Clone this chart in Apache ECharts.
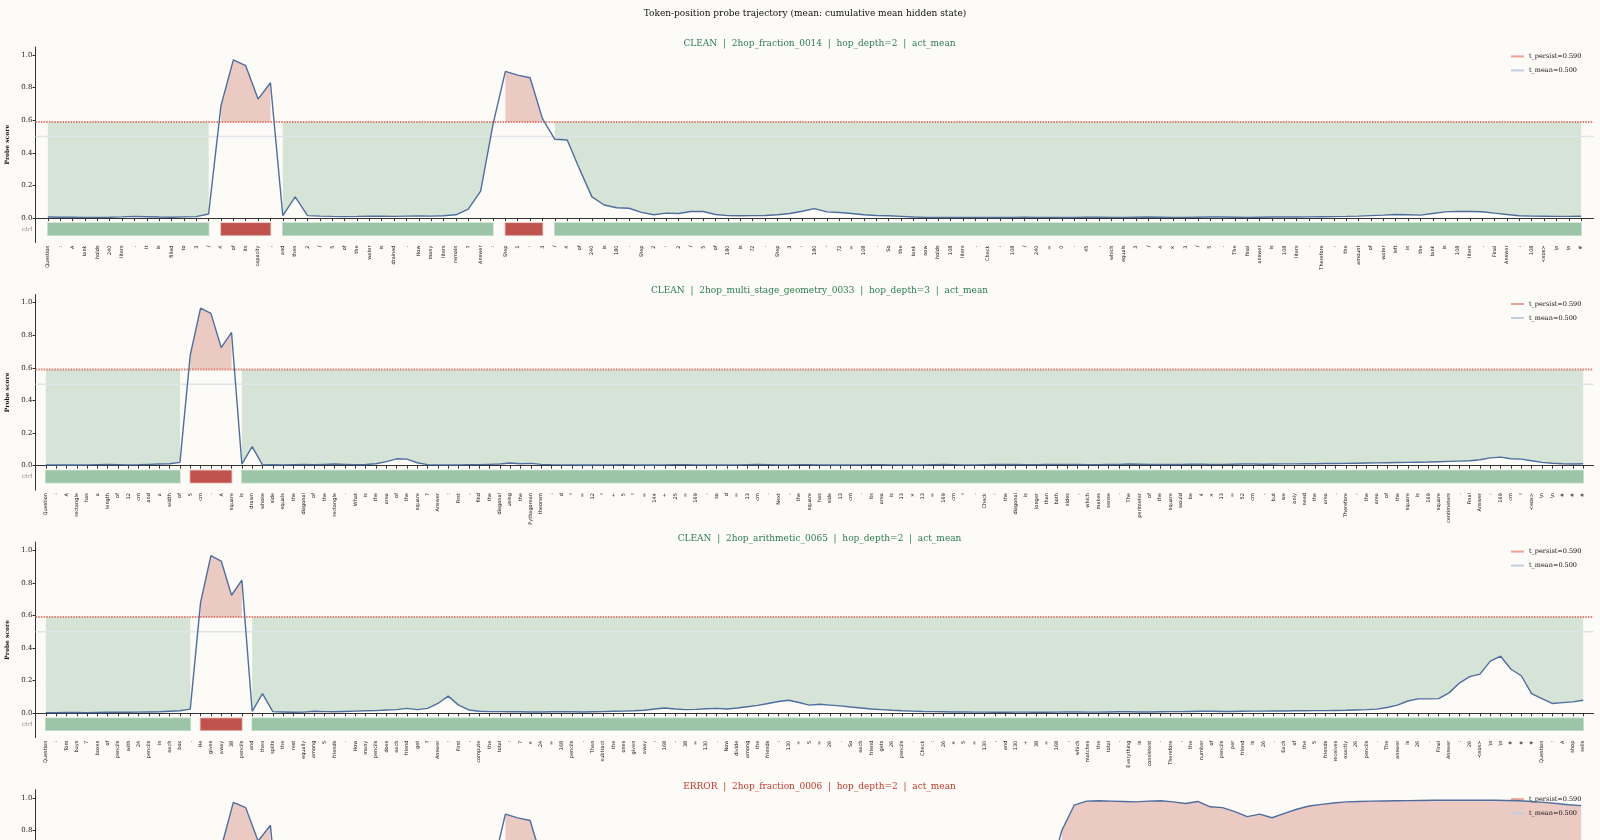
<!DOCTYPE html>
<html>
<head>
<meta charset="utf-8">
<title>Token-position probe trajectory</title>
<script src="https://cdn.jsdelivr.net/npm/echarts@6/dist/echarts.min.js"></script>
<style>
  html, body { margin: 0; padding: 0; background: #fcfbf7; overflow: hidden; }
  #chart { width: 1600px; height: 840px; }
</style>
</head>
<body>
<div id="chart"></div>
<script>
'use strict';

// thresholds and fixed labels
var threshold = 0.59;
var tMean = 0.5;
var legendNames = ['t_persist=0.590', 't_mean=0.500'];
var yTicks = [0, 0.2, 0.4, 0.6, 0.8, 1.0];
var bandLabel = 'ctrl';
var mainTitle = 'Token-position probe trajectory (mean: cumulative mean hidden state)';

var statuses = ['CLEAN', 'CLEAN', 'CLEAN', 'ERROR'];
var promptIds = ['2hop_fraction_0014', '2hop_multi_stage_geometry_0033', '2hop_arithmetic_0065', '2hop_fraction_0006'];
var hopDepths = [2, 3, 2, 2];
var actKind = 'act_mean';

// tokens (x categories) per panel
var tokens1 = [
  'Question', ':', 'A', 'tank', 'holds', '240', 'liters', '.', 'It', 'is',
  'filled', 'to', '3', '/', '4', 'of', 'its', 'capacity', ',', 'and',
  'then', '2', '/', '5', 'of', 'the', 'water', 'is', 'drained', '.',
  'How', 'many', 'liters', 'remain', '?', 'Answer', ':', 'Step', '1', ':',
  '3', '/', '4', 'of', '240', 'is', '180', '.', 'Step', '2',
  ':', '2', '/', '5', 'of', '180', 'is', '72', '.', 'Step',
  '3', ':', '180', '-', '72', '=', '108', '.', 'So', 'the',
  'tank', 'now', 'holds', '108', 'liters', '.', 'Check', ':', '108', '/',
  '240', '=', '0', '.', '45', ',', 'which', 'equals', '3', '/',
  '4', '×', '3', '/', '5', '.', 'The', 'final', 'answer', 'is',
  '108', 'liters', '.', 'Therefore', ',', 'the', 'amount', 'of', 'water', 'left',
  'in', 'the', 'tank', 'is', '108', 'liters', '.', 'Final', 'Answer', ':',
  '108', '<eos>', '\\n', '\\n', '#'
];
var tokens2 = [
  'Question', ':', 'A', 'rectangle', 'has', 'a', 'length', 'of', '12', 'cm',
  'and', 'a', 'width', 'of', '5', 'cm', '.', 'A', 'square', 'is',
  'drawn', 'whose', 'side', 'equals', 'the', 'diagonal', 'of', 'the', 'rectangle', '.',
  'What', 'is', 'the', 'area', 'of', 'the', 'square', '?', 'Answer', ':',
  'First', ',', 'find', 'the', 'diagonal', 'using', 'the', 'Pythagorean', 'theorem', ':',
  'd', '²', '=', '12', '²', '+', '5', '²', '=', '144',
  '+', '25', '=', '169', ',', 'so', 'd', '=', '13', 'cm',
  '.', 'Next', ',', 'the', 'square', 'has', 'side', '13', 'cm', '.',
  'Its', 'area', 'is', '13', '×', '13', '=', '169', 'cm', '²',
  '.', 'Check', ':', 'the', 'diagonal', 'is', 'longer', 'than', 'both', 'sides',
  ',', 'which', 'makes', 'sense', '.', 'The', 'perimeter', 'of', 'the', 'square',
  'would', 'be', '4', '×', '13', '=', '52', 'cm', ',', 'but',
  'we', 'only', 'need', 'the', 'area', '.', 'Therefore', ',', 'the', 'area',
  'of', 'the', 'square', 'is', '169', 'square', 'centimeters', '.', 'Final', 'Answer',
  ':', '169', 'cm', '²', '<eos>', '\\n', '\\n', '#', '#', '#'
];
var tokens3 = [
  'Question', ':', 'Tom', 'buys', '7', 'boxes', 'of', 'pencils', 'with', '24',
  'pencils', 'in', 'each', 'box', '.', 'He', 'gives', 'away', '38', 'pencils',
  'and', 'then', 'splits', 'the', 'rest', 'equally', 'among', '5', 'friends', '.',
  'How', 'many', 'pencils', 'does', 'each', 'friend', 'get', '?', 'Answer', ':',
  'First', ',', 'compute', 'the', 'total', ':', '7', '×', '24', '=',
  '168', 'pencils', '.', 'Then', 'subtract', 'the', 'ones', 'given', 'away', ':',
  '168', '-', '38', '=', '130', '.', 'Now', 'divide', 'among', 'the',
  'friends', ':', '130', '÷', '5', '=', '26', '.', 'So', 'each',
  'friend', 'gets', '26', 'pencils', '.', 'Check', ':', '26', '×', '5',
  '=', '130', ',', 'and', '130', '+', '38', '=', '168', ',',
  'which', 'matches', 'the', 'total', '.', 'Everything', 'is', 'consistent', '.', 'Therefore',
  ',', 'the', 'number', 'of', 'pencils', 'per', 'friend', 'is', '26', '.',
  'Each', 'of', 'the', '5', 'friends', 'receives', 'exactly', '26', 'pencils', '.',
  'The', 'answer', 'is', '26', '.', 'Final', 'Answer', ':', '26', '<eos>',
  '\\n', '\\n', '#', '#', '#', 'Question', ':', 'A', 'shop', 'sells'
];
var tokens4 = [
  'Question', ':', 'A', 'baker', 'made', '360', 'cookies', '.', 'She', 'has',
  'packed', 'up', '3', '/', '4', 'of', 'the', 'batch', ',', 'and',
  'then', '2', '/', '3', 'of', 'those', 'boxes', 'were', 'sold', '.',
  'How', 'many', 'cookies', 'remain', '?', 'Answer', ':', 'Step', '1', ':',
  '3', '/', '4', 'of', '360', 'is', '270', '.', 'Step', '2',
  ':', '2', '/', '3', 'of', '270', 'is', '180', '.', 'Step',
  '3', ':', '360', '-', '180', '=', '180', '.', 'So', 'the',
  'baker', 'still', 'has', '180', 'cookies', '.', 'Check', ':', '180', '/',
  '360', '=', '0', '.', '5', ',', 'which', 'equals', '1', '/',
  '2', 'of', 'the', 'batch', '.', '.', 'The', 'final', 'answer', 'is',
  '180', 'cookies', '.', 'Therefore', ',', 'the', 'number', 'of', 'cookies', 'left',
  'with', 'the', 'baker', 'is', '180', 'cookies', '.', 'Final', 'Answer', ':',
  '180', '<eos>', '\\n', '\\n', '#'
];

// probe scores per token
var scores1 = [
  0.006, 0.005, 0.005, 0.004, 0.004, 0.005, 0.007, 0.010, 0.008, 0.006,
  0.005, 0.007, 0.009, 0.025, 0.690, 0.970, 0.935, 0.730, 0.830, 0.015,
  0.130, 0.015, 0.012, 0.010, 0.009, 0.010, 0.012, 0.011, 0.010, 0.012,
  0.013, 0.012, 0.014, 0.020, 0.055, 0.165, 0.575, 0.900, 0.877, 0.861,
  0.610, 0.483, 0.479, 0.300, 0.130, 0.080, 0.063, 0.060, 0.035, 0.020,
  0.030, 0.028, 0.040, 0.040, 0.022, 0.015, 0.014, 0.015, 0.016, 0.020,
  0.028, 0.042, 0.058, 0.038, 0.034, 0.028, 0.020, 0.016, 0.014, 0.010,
  0.006, 0.004, 0.003, 0.003, 0.004, 0.004, 0.003, 0.003, 0.004, 0.005,
  0.004, 0.004, 0.003, 0.004, 0.005, 0.005, 0.004, 0.004, 0.005, 0.006,
  0.005, 0.004, 0.004, 0.005, 0.006, 0.006, 0.005, 0.004, 0.005, 0.006,
  0.006, 0.006, 0.007, 0.008, 0.009, 0.010, 0.012, 0.015, 0.018, 0.022,
  0.020, 0.018, 0.028, 0.038, 0.041, 0.040, 0.039, 0.030, 0.022, 0.014,
  0.012, 0.011, 0.010, 0.010, 0.011
];
var scores2 = [
  0.005, 0.004, 0.004, 0.004, 0.005, 0.006, 0.007, 0.006, 0.005, 0.006,
  0.008, 0.010, 0.012, 0.020, 0.680, 0.967, 0.934, 0.724, 0.817, 0.010,
  0.117, 0.005, 0.006, 0.005, 0.006, 0.007, 0.006, 0.008, 0.010, 0.008,
  0.006, 0.007, 0.012, 0.025, 0.042, 0.040, 0.018, 0.006, 0.005, 0.004,
  0.005, 0.006, 0.006, 0.008, 0.010, 0.016, 0.012, 0.014, 0.008, 0.006,
  0.005, 0.005, 0.004, 0.004, 0.005, 0.005, 0.006, 0.005, 0.004, 0.004,
  0.005, 0.006, 0.006, 0.005, 0.005, 0.004, 0.004, 0.005, 0.006, 0.007,
  0.006, 0.005, 0.005, 0.006, 0.006, 0.005, 0.004, 0.004, 0.005, 0.005,
  0.006, 0.006, 0.005, 0.005, 0.004, 0.005, 0.006, 0.007, 0.006, 0.005,
  0.005, 0.006, 0.007, 0.008, 0.007, 0.006, 0.006, 0.007, 0.008, 0.008,
  0.007, 0.006, 0.006, 0.007, 0.008, 0.010, 0.009, 0.008, 0.007, 0.007,
  0.008, 0.009, 0.009, 0.008, 0.008, 0.009, 0.010, 0.010, 0.009, 0.010,
  0.011, 0.011, 0.012, 0.012, 0.013, 0.013, 0.014, 0.015, 0.016, 0.017,
  0.018, 0.019, 0.020, 0.021, 0.022, 0.024, 0.026, 0.028, 0.030, 0.036,
  0.048, 0.052, 0.042, 0.040, 0.030, 0.020, 0.015, 0.012, 0.010, 0.012
];
var scores3 = [
  0.004, 0.004, 0.005, 0.005, 0.004, 0.005, 0.006, 0.007, 0.006, 0.007,
  0.008, 0.009, 0.012, 0.015, 0.025, 0.680, 0.967, 0.934, 0.724, 0.817,
  0.012, 0.120, 0.010, 0.008, 0.006, 0.007, 0.012, 0.010, 0.009, 0.011,
  0.013, 0.015, 0.016, 0.020, 0.022, 0.030, 0.022, 0.030, 0.060, 0.105,
  0.050, 0.020, 0.012, 0.010, 0.010, 0.009, 0.009, 0.008, 0.008, 0.009,
  0.010, 0.009, 0.008, 0.009, 0.010, 0.012, 0.013, 0.015, 0.018, 0.026,
  0.032, 0.026, 0.022, 0.024, 0.028, 0.030, 0.026, 0.032, 0.040, 0.048,
  0.060, 0.072, 0.080, 0.066, 0.050, 0.055, 0.050, 0.045, 0.038, 0.032,
  0.026, 0.022, 0.018, 0.015, 0.013, 0.011, 0.010, 0.009, 0.008, 0.008,
  0.007, 0.007, 0.006, 0.006, 0.007, 0.007, 0.006, 0.006, 0.007, 0.008,
  0.008, 0.007, 0.007, 0.008, 0.009, 0.009, 0.008, 0.008, 0.009, 0.010,
  0.010, 0.011, 0.012, 0.012, 0.011, 0.011, 0.012, 0.013, 0.013, 0.014,
  0.014, 0.015, 0.015, 0.016, 0.016, 0.017, 0.018, 0.020, 0.022, 0.025,
  0.035, 0.050, 0.075, 0.088, 0.088, 0.090, 0.125, 0.185, 0.225, 0.240,
  0.320, 0.350, 0.270, 0.230, 0.120, 0.090, 0.060, 0.065, 0.070, 0.080
];
var scores4 = [
  0.006, 0.005, 0.005, 0.004, 0.004, 0.005, 0.007, 0.010, 0.008, 0.006,
  0.005, 0.007, 0.009, 0.025, 0.690, 0.972, 0.940, 0.735, 0.832, 0.015,
  0.130, 0.015, 0.012, 0.010, 0.009, 0.010, 0.012, 0.011, 0.010, 0.012,
  0.013, 0.012, 0.014, 0.020, 0.055, 0.165, 0.575, 0.900, 0.877, 0.861,
  0.610, 0.483, 0.479, 0.300, 0.130, 0.080, 0.063, 0.060, 0.035, 0.020,
  0.030, 0.028, 0.040, 0.040, 0.030, 0.025, 0.030, 0.035, 0.040, 0.045,
  0.050, 0.060, 0.070, 0.065, 0.060, 0.070, 0.080, 0.090, 0.100, 0.110,
  0.090, 0.120, 0.100, 0.140, 0.170, 0.150, 0.190, 0.240, 0.220, 0.280,
  0.340, 0.520, 0.800, 0.955, 0.980, 0.982, 0.980, 0.978, 0.975, 0.980,
  0.982, 0.975, 0.965, 0.978, 0.945, 0.940, 0.915, 0.885, 0.900, 0.878,
  0.905, 0.930, 0.950, 0.960, 0.968, 0.975, 0.978, 0.980, 0.981, 0.982,
  0.983, 0.984, 0.985, 0.985, 0.986, 0.985, 0.986, 0.985, 0.984, 0.982,
  0.978, 0.972, 0.965, 0.958, 0.952
];

var tokenSets = [tokens1, tokens2, tokens3, tokens4];
var scoreSets = [scores1, scores2, scores3, scores4];

// layout
var gridLeft = 35.5, gridWidth = 1558, gridHeight = 195.6;
var firstTop = 46.9, panelStep = 247.6;
var yMin = -0.15, yMax = 1.05;
var bandTop = -0.03, bandBottom = -0.105;

var serif = '"DejaVu Serif", "Liberation Serif", serif';
var colors = {
  bg: '#fcfbf7',
  line: '#4f6e9e',
  thr: 'rgba(220, 105, 88, 0.85)',
  mean: '#e0e4e9',
  meanLegend: '#c2cede',
  greenFill: 'rgba(110, 170, 130, 0.28)',
  redFill: 'rgba(200, 90, 80, 0.30)',
  greenBand: '#9cc5a8',
  redBand: '#c0524e',
  clean: '#2e7d4f',
  error: '#c0392b'
};

function pad(arr) {
  return [null].concat(arr, [null]);
}

// contiguous runs above / below threshold -> [start, end, isAbove, yMid]
function runsOf(scores) {
  var runs = [];
  var start = 0;
  for (var i = 1; i <= scores.length; i++) {
    var prev = scores[i - 1] >= threshold;
    if (i === scores.length || (scores[i] >= threshold) !== prev) {
      runs.push([start + 1, i, prev ? 1 : 0, (bandTop + bandBottom) / 2]);
      start = i;
    }
  }
  return runs;
}

var option = {
  backgroundColor: colors.bg,
  animation: false,
  title: [{
    text: mainTitle,
    left: 800,
    top: 4,
    textAlign: 'center',
    textStyle: { fontFamily: serif, fontSize: 9, fontWeight: 'normal', color: '#111' }
  }],
  grid: [],
  xAxis: [],
  yAxis: [],
  legend: [],
  series: []
};

scoreSets.forEach(function(scores, k) {
  var tokens = tokenSets[k];
  var cats = [''].concat(tokens, ['']);
  var top = firstTop + panelStep * k;
  var flat = function(v) { return cats.map(function() { return v; }); };

  option.title.push({
    text: statuses[k] + '  |  ' + promptIds[k] + '  |  hop_depth=' + hopDepths[k] + '  |  ' + actKind,
    left: gridLeft + gridWidth / 2,
    top: top - 13,
    textAlign: 'center',
    textStyle: {
      fontFamily: serif, fontSize: 9, fontWeight: 'normal',
      color: statuses[k] === 'ERROR' ? colors.error : colors.clean
    }
  });

  option.grid.push({
    left: gridLeft, top: top, width: gridWidth, height: gridHeight,
    outerBoundsMode: 'none', containLabel: false
  });

  option.xAxis.push({
    type: 'category',
    gridIndex: k,
    data: cats,
    boundaryGap: false,
    axisLine: { lineStyle: { color: '#333', width: 1 } },
    axisTick: {
      length: 3,
      lineStyle: { color: '#333' },
      interval: function(i) { return i > 0 && i < cats.length - 1; }
    },
    axisLabel: {
      interval: 0, rotate: 90, margin: 3,
      fontSize: 5, fontFamily: '"DejaVu Sans", sans-serif', color: '#111'
    },
    splitLine: { show: false }
  });

  option.yAxis.push({
    type: 'value',
    gridIndex: k,
    min: yMin,
    max: yMax,
    name: 'Probe score',
    nameLocation: 'middle',
    nameGap: 24,
    nameTextStyle: { fontFamily: serif, fontSize: 6, fontWeight: 'bold', color: '#111' },
    axisLine: { show: true, lineStyle: { color: '#333', width: 1 } },
    axisTick: { show: true, length: 3, customValues: yTicks, lineStyle: { color: '#333' } },
    axisLabel: {
      customValues: yTicks.concat([(bandTop + bandBottom) / 2]),
      margin: 3,
      fontFamily: serif, fontSize: 7, color: '#222',
      formatter: function(v) { return v < 0 ? '{c|' + bandLabel + '}' : v.toFixed(1); },
      rich: { c: { fontFamily: serif, fontSize: 6, fontStyle: 'italic', color: '#888' } }
    },
    splitLine: { show: false }
  });

  option.legend.push({
    data: [
      { name: legendNames[0], icon: 'rect', itemStyle: { color: 'rgba(226, 140, 128, 0.8)' } },
      { name: legendNames[1], icon: 'rect', itemStyle: { color: colors.meanLegend } }
    ],
    left: 1511,
    top: top + 6,
    orient: 'vertical',
    padding: 0,
    itemWidth: 13,
    itemHeight: 2,
    itemGap: 7,
    selectedMode: false,
    textStyle: { fontFamily: serif, fontSize: 6.5, color: '#111' }
  });

  var common = { type: 'line', xAxisIndex: k, yAxisIndex: k, symbol: 'none', silent: true };

  // green fill: between score and threshold while below it
  option.series.push(Object.assign({}, common, {
    stack: 'g' + k, z: 1,
    data: pad(scores.map(function(v) { return v < threshold ? v : null; })),
    lineStyle: { opacity: 0 }
  }));
  option.series.push(Object.assign({}, common, {
    stack: 'g' + k, z: 1,
    data: pad(scores.map(function(v) { return v < threshold ? threshold - v : null; })),
    lineStyle: { opacity: 0 },
    areaStyle: { color: colors.greenFill, opacity: 1 }
  }));
  // red fill: between threshold and score while above it
  option.series.push(Object.assign({}, common, {
    stack: 'r' + k, z: 1,
    data: pad(scores.map(function(v) { return v >= threshold ? threshold : null; })),
    lineStyle: { opacity: 0 }
  }));
  option.series.push(Object.assign({}, common, {
    stack: 'r' + k, z: 1,
    data: pad(scores.map(function(v) { return v >= threshold ? v - threshold : null; })),
    lineStyle: { opacity: 0 },
    areaStyle: { color: colors.redFill, opacity: 1 }
  }));

  // reference lines
  option.series.push(Object.assign({}, common, {
    name: legendNames[1], z: 2,
    data: flat(tMean),
    lineStyle: { color: colors.mean, width: 1.5 },
    itemStyle: { color: colors.mean }
  }));
  option.series.push(Object.assign({}, common, {
    name: legendNames[0], z: 3,
    data: flat(threshold),
    lineStyle: { color: colors.thr, width: 2, type: [1.5, 1.2] },
    itemStyle: { color: colors.thr }
  }));

  // probe trajectory
  option.series.push(Object.assign({}, common, {
    z: 5,
    data: pad(scores),
    lineStyle: { color: colors.line, width: 1.4 },
    itemStyle: { color: colors.line }
  }));

  // state strip under the axis
  option.series.push({
    type: 'custom',
    xAxisIndex: k,
    yAxisIndex: k,
    silent: true,
    z: 4,
    encode: { x: [0, 1], y: 3 },
    data: runsOf(scores),
    renderItem: function(params, api) {
      var a = api.coord([api.value(0), bandTop]);
      var b = api.coord([api.value(1), bandBottom]);
      var above = api.value(2) === 1;
      return {
        type: 'rect',
        shape: { x: a[0], y: a[1], width: b[0] - a[0], height: b[1] - a[1] },
        style: {
          fill: above ? colors.redBand : colors.greenBand,
          stroke: above ? 'rgba(205, 110, 105, 0.45)' : 'rgba(156, 197, 168, 0.5)',
          lineWidth: 1.5
        }
      };
    }
  });
});

var myChart = echarts.init(document.getElementById('chart'));
myChart.setOption(option);
</script>
</body>
</html>
